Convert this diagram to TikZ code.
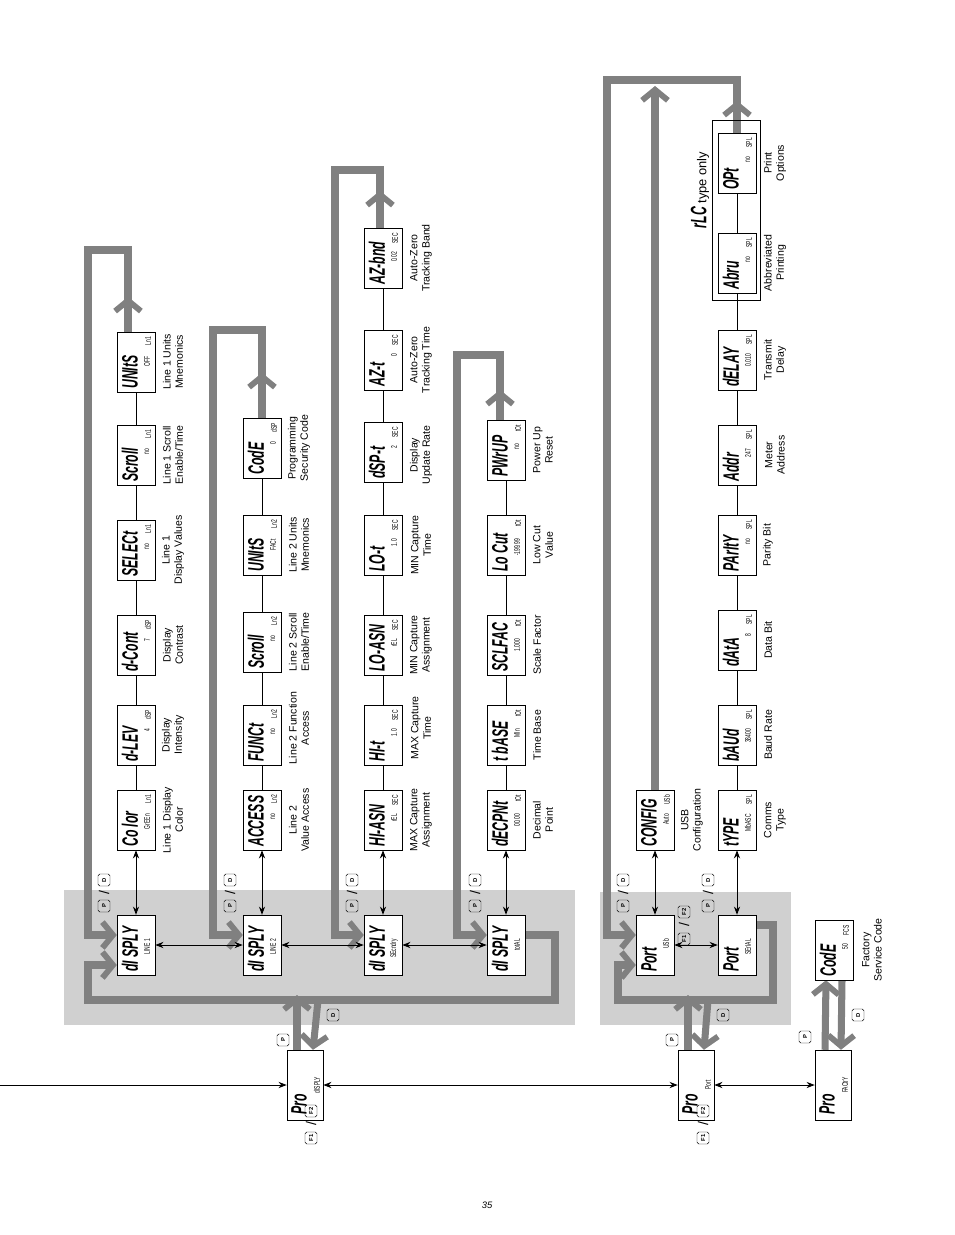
\documentclass[tikz,border=0pt]{standalone}
\usepackage{fontspec}
\setmainfont{Liberation Sans}
\newfontfamily\lcdfam{Liberation Sans}
\usetikzlibrary{arrows.meta,calc}
\pgfdeclarelayer{background}
\pgfsetlayers{background,main}
\definecolor{panel}{HTML}{D0D0D0}
\definecolor{flowgray}{HTML}{808080}
\newcommand\seg[1]{\scalebox{0.55}[1]{\lcdfam\bfseries\itshape\fontsize{19}{19}\selectfont #1}}
\newcommand\segsub[1]{\scalebox{0.6}[1]{\lcdfam\fontsize{7}{7}\selectfont #1}}
\tikzset{
  lcdbox/.style={draw,rotate=90,fill=white,minimum width=1.8cm,minimum height=1.14cm,inner sep=0pt},
  probox/.style={lcdbox,minimum width=2.1cm,minimum height=1.08cm},
  lcdtxt/.style={rotate=90,inner sep=0pt},
  caption/.style={rotate=90,align=center,font=\fontsize{9}{10.5}\selectfont},
  keybox/.style={draw,rotate=90,rounded corners=1.5pt,minimum size=0.36cm,inner sep=0pt,font=\fontsize{5}{5}\selectfont\bfseries},
  flow/.style={draw=flowgray,line width=6pt},
  flowarr/.style={flow,-{Straight Barb[length=9pt,width=22pt,line width=5pt]}},
  blk/.style={thick,-{Stealth[length=7pt]}},
  blk2/.style={thick,{Stealth[length=7pt]}-{Stealth[length=7pt]}}
}
% display box: name, x, y, main text, sub text, tag
\newcommand\lcd[6]{%
  \node[lcdbox] (#1) at (#2,#3) {};
  \node[lcdtxt,anchor=west] at ({#2-6},{#3+27}) {\seg{#4}};
  \node[lcdtxt,anchor=east] at ({#2+11},{#3-6}) {\segsub{#5}};
  \node[lcdtxt,anchor=east] at ({#2+12},{#3-25}) {\segsub{#6}};}
\newcommand\prolcd[4]{%
  \node[probox] (#1) at (#2,#3) {};
  \node[lcdtxt,anchor=west] at ({#2-6},{#3+30}) {\seg{Pro}};
  \node[lcdtxt] at ({#2+12},{#3}) {\segsub{#4}};}
\begin{document}
\begin{tikzpicture}[x=0.03cm,y=-0.03cm]
\useasboundingbox (0,0) rectangle (954,1235);

% column 1
\lcd{d1}{136}{945}{dI SPLY}{LINE 1}{}
\lcd{c1a}{136}{820}{Co lor}{GrEEn}{Ln1}
\lcd{c1b}{136}{735}{d-LEV}{4}{dSP}
\lcd{c1c}{136}{645}{d-Cont}{7}{dSP}
\lcd{c1d}{136}{550}{SELECt}{no}{Ln1}
\lcd{c1e}{136}{455}{Scroll}{no}{Ln1}
\lcd{c1f}{136}{362}{UNItS}{OFF}{Ln1}
% column 2
\lcd{d2}{262}{945}{dI SPLY}{LINE 2}{}
\lcd{c2a}{262}{820}{ACCESS}{no}{Ln2}
\lcd{c2b}{262}{735}{FUNCt}{no}{Ln2}
\lcd{c2c}{262}{642}{Scroll}{no}{Ln2}
\lcd{c2d}{262}{545}{UNItS}{FACt}{Ln2}
\lcd{c2e}{262}{448}{CodE}{0}{dSP}
% column 3
\lcd{d3}{383}{945}{dI SPLY}{SEcndry}{}
\lcd{c3a}{383}{820}{HI-ASN}{rEL}{SEC}
\lcd{c3b}{383}{735}{HI-t}{1.0}{SEC}
\lcd{c3c}{383}{645}{LO-ASN}{rEL}{SEC}
\lcd{c3d}{383}{545}{LO-t}{1.0}{SEC}
\lcd{c3e}{383}{452}{dSP-t}{2}{SEC}
\lcd{c3f}{383}{360}{AZ-t}{0}{SEC}
\lcd{c3g}{383}{258}{AZ-bnd}{0.02}{SEC}
% column 4
\lcd{d4}{506}{945}{dI SPLY}{totAL}{}
\lcd{c4a}{506}{820}{dECPNt}{00.00}{tOt}
\lcd{c4b}{506}{735}{t bASE}{MIn}{tOt}
\lcd{c4c}{506}{645}{SCLFAC}{1.000}{tOt}
\lcd{c4d}{506}{545}{Lo Cut}{-199.99}{tOt}
\lcd{c4e}{506}{450}{PWrUP}{no}{tOt}
% port columns
\lcd{p1}{655}{945}{Port}{USb}{}
\lcd{c5a}{655}{820}{CONFIG}{Auto}{USb}
\lcd{p2}{737}{945}{Port}{SErIAL}{}
\lcd{c6a}{737}{820}{tYPE}{MbASC}{SPL}
\lcd{c6b}{737}{735}{bAUd}{38400}{SPL}
\lcd{c6c}{737}{640}{dAtA}{8}{SPL}
\lcd{c6d}{737}{545}{PArItY}{no}{SPL}
\lcd{c6e}{737}{455}{Addr}{247}{SPL}
\lcd{c6f}{737}{360}{dELAY}{0.010}{SPL}
\lcd{c6g}{737}{263}{Abru}{no}{SPL}
\lcd{c6h}{737}{163}{OPt}{no}{SPL}
\lcd{fcs}{834}{950}{CodE}{50}{FCS}
% Pro boxes
\prolcd{pro1}{305}{1085}{dISPLY}
\prolcd{pro2}{696}{1085}{Port}
\prolcd{pro3}{833}{1085}{FACtrY}

% rLC group
\draw (712,120) rectangle (760,300);
\node[lcdtxt] (rlc) at (700,190) {\seg{rLC}\fontsize{11}{11}\selectfont\ type only};

\begin{pgfonlayer}{background}
% panels
\fill[panel] (64,890) rectangle (575,1025);
\fill[panel] (600,892) rectangle (791,1025);
% gray flow lines
\draw[flow] ($(c1f.east)+(-8,0)$) |- (88,250) -- (88,935);
\draw[flowarr] ($(c1f.east)+(-8,0)$) -- ++(0,-35);
\draw[flowarr] (88,900) |- (d1.north |- 0,935);
\draw[flow] (c2e.east) |- (213,330) -- (213,935);
\draw[flowarr] (c2e.east) -- ++(0,-45);
\draw[flowarr] (213,900) |- (d2.north |- 0,935);
\draw[flow] ($(c3g.east)+(-3,0)$) |- (335,170) -- (335,935);
\draw[flowarr] ($(c3g.east)+(-3,0)$) -- ++(0,-37);
\draw[flowarr] (335,900) |- (d3.north |- 0,935);
\draw[flow] ($(c4e.east)+(-6,0)$) |- (457,355) -- (457,935);
\draw[flowarr] ($(c4e.east)+(-6,0)$) -- ++(0,-30);
\draw[flowarr] (457,900) |- (d4.north |- 0,935);
\draw[flow] (c6h.east) |- (607,80) -- (607,935);
\draw[flowarr] (c6h.east) -- ++(0,-32);
\draw[flowarr] (c5a.east) -- (655,86);
\draw[flowarr] (607,900) |- (p1.north |- 0,935);
% return lines
\draw[flow] (d4.south |- 0,935) -| (555,1000) -| (88,965);
\draw[flowarr] (88,975) |- (d1.north |- 0,965);
\draw[flow] (p2.south |- 0,925) -| (773,1000) -| (618,965);
\draw[flowarr] (618,975) |- (p1.north |- 0,965);
% entry from Pro boxes
\draw[flowarr] ($(pro1.east)+(-8,0)$) -- (297,995);
\draw[flowarr] (318,1000) -- ($(pro1.east)+(8,0)$);
\draw[flowarr] ($(pro2.east)+(-8,0)$) -- (688,995);
\draw[flowarr] (708,1000) -- ($(pro2.east)+(8,0)$);
\draw[flowarr] ($(pro3.east)+(-8,0)$) -- ($(fcs.west)+(-8,0)$);
\draw[flowarr] ($(fcs.west)+(8,0)$) -- ($(pro3.east)+(8,0)$);
\end{pgfonlayer}

% thin connectors
\foreach \a/\b in {c1a/c1b,c1b/c1c,c1c/c1d,c1d/c1e,c1e/c1f,
  c2a/c2b,c2b/c2c,c2c/c2d,c2d/c2e,
  c3a/c3b,c3b/c3c,c3c/c3d,c3d/c3e,c3e/c3f,c3f/c3g,
  c4a/c4b,c4b/c4c,c4c/c4d,c4d/c4e,
  c6a/c6b,c6b/c6c,c6c/c6d,c6d/c6e,c6e/c6f,c6f/c6g,c6g/c6h}
  \draw (\a.east) -- (\b.west);
\foreach \a/\b in {d1/c1a,d2/c2a,d3/c3a,d4/c4a,p1/c5a,p2/c6a}
  \draw[blk2] (\a.east) -- (\b.west);
\foreach \a/\b in {d1/d2,d2/d3,d3/d4,p1/p2,pro1/pro2,pro2/pro3}
  \draw[blk2] (\a.south) -- (\b.north);
\coordinate (in) at (0,1085);
\draw[blk] (in) -- (pro1.north);

% captions
\node[caption] at (173,820) {Line 1 Display\\Color};
\node[caption] at (173,735) {Display\\Intensity};
\node[caption] at (173,645) {Display\\Contrast};
\node[caption] at (173,550) {Line 1\\Display Values};
\node[caption] at (173,455) {Line 1 Scroll\\Enable/Time};
\node[caption] at (173,362) {Line 1 Units\\Mnemonics};
\node[caption] at (299,820) {Line 2\\Value Access};
\node[caption] at (299,728) {Line 2 Function\\Access};
\node[caption] at (299,642) {Line 2 Scroll\\Enable/Time};
\node[caption] at (299,545) {Line 2 Units\\Mnemonics};
\node[caption] at (299,448) {Programming\\Security Code};
\node[caption] at (421,820) {MAX Capture\\Assignment};
\node[caption] at (421,728) {MAX Capture\\Time};
\node[caption] at (421,645) {MIN Capture\\Assignment};
\node[caption] at (421,545) {MIN Capture\\Time};
\node[caption] at (421,455) {Display\\Update Rate};
\node[caption] at (421,360) {Auto-Zero\\Tracking Time};
\node[caption] at (421,258) {Auto-Zero\\Tracking Band};
\node[caption] at (543,820) {Decimal\\Point};
\node[caption] at (537,735) {Time Base};
\node[caption] at (537,645) {Scale Factor};
\node[caption] at (543,545) {Low Cut\\Value};
\node[caption] at (543,450) {Power Up\\Reset};
\node[caption] at (692,820) {USB\\Configuration};
\node[caption] at (775,820) {Comms\\Type};
\node[caption] at (768,735) {Baud Rate};
\node[caption] at (768,640) {Data Bit};
\node[caption] at (768,545) {Parity Bit};
\node[caption] at (775,455) {Meter\\Address};
\node[caption] at (775,360) {Transmit\\Delay};
\node[caption] at (775,263) {Abbreviated\\Printing};
\node[caption] at (775,163) {Print\\Options};
\node[caption] at (872,950) {Factory\\Service Code};

% keys
\foreach \x in {104,230,352,475,623,708} {
  \node[keybox] at (\x,906) {P};
  \node[lcdtxt,font=\large] at (\x,893) {/};
  \node[keybox] at (\x,880) {D};}
\node[keybox] at (283,1040) {P};
\node[keybox] at (333,1015) {D};
\node[keybox] at (672,1040) {P};
\node[keybox] at (723,1015) {D};
\node[keybox] at (805,1037) {P};
\node[keybox] at (858,1015) {D};
\foreach \x/\y in {311/1124,703/1124,684/925} {
  \node[keybox] at (\x,\y+14) {F1};
  \node[lcdtxt,font=\large] at (\x,\y) {/};
  \node[keybox] at (\x,\y-13) {F2};}

\node[font=\footnotesize\itshape] (page) at (487,1205) {35};
\end{tikzpicture}
\end{document}
